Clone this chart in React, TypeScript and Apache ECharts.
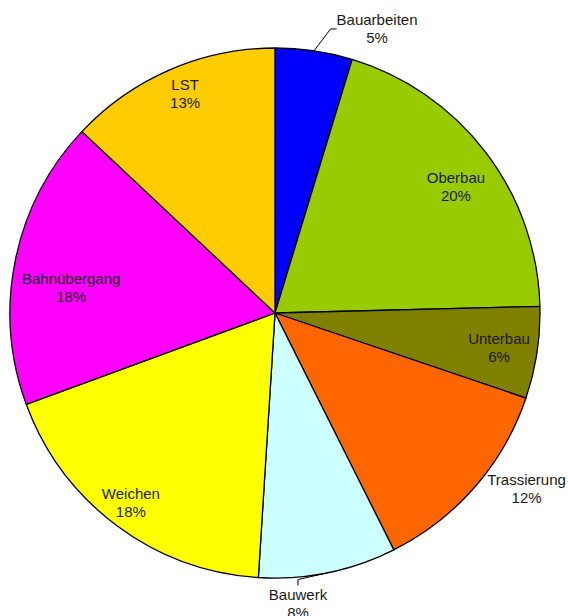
import React, { useEffect, useRef } from "react";
import * as echarts from "echarts";

const categories = ["Bauarbeiten", "Oberbau", "Unterbau", "Trassierung", "Bauwerk", "Weichen", "Bahnübergang", "LST"];
const values = [4.7, 19.9, 5.6, 12.4, 8.4, 18.4, 17.6, 13.0];
const colors = ["#0000FF", "#99CC00", "#808000", "#FF6600", "#CCFFFF", "#FFFF00", "#FF00FF", "#FFCC00"];
// label placement: [radius factor, angle shift in degrees], outside flag
const labelRadius = [1.139, 0.834, 0.855, 1.158, 1.1, 0.897, 0.775, 0.894];
const labelAngleShift = [11.3, 2.2, 0, -6.1, 7.0, 0.6, -4.5, 1.1];
const outsideLabels = [true, false, false, false, true, false, false, false];

const CX = 275;
const CY = 313;
const R = 265;

export default function App() {
  const ref = useRef<HTMLDivElement>(null);
  useEffect(() => {
    if (!ref.current) return;
    const chart = echarts.init(ref.current, null, { renderer: "svg" });
    const total = values.reduce((a, b) => a + b, 0);
    const mids: number[] = [];
    let acc = 0;
    values.forEach((v) => {
      mids.push(((acc + v / 2) / total) * 360);
      acc += v;
    });
    const data = categories.map((name, i) => ({
      name,
      value: values[i],
      itemStyle: { color: colors[i] },
      label: { position: outsideLabels[i] ? "outside" : "inside" },
      labelLine: { show: outsideLabels[i], length: 10, length2: 6 },
    }));
    chart.setOption({
      animation: false,
      backgroundColor: "#ffffff",
      series: [
        {
          type: "pie",
          center: [CX, CY],
          radius: [0, R],
          startAngle: 90,
          clockwise: true,
          avoidLabelOverlap: false,
          itemStyle: { borderColor: "#000000", borderWidth: 1.3 },
          label: {
            show: true,
            formatter: (p: any) => `${p.name}\n${Math.round(p.percent)}%`,
            fontFamily: "Liberation Sans, Arial, sans-serif",
            fontSize: 15,
            lineHeight: 18,
            color: "#1a1a1a",
            align: "center",
          },
          labelLine: { lineStyle: { color: "#000000", width: 1 } },
          labelLayout: (params: any) => {
            const i = params.dataIndex;
            const th = ((mids[i] + labelAngleShift[i]) * Math.PI) / 180;
            const r = labelRadius[i] * R;
            return {
              x: CX + r * Math.sin(th),
              y: CY - r * Math.cos(th),
              align: "center",
              verticalAlign: "middle",
            };
          },
          data,
        },
      ],
    });
    return () => chart.dispose();
  }, []);
  return (
    <div
      ref={ref}
      style={{ position: "fixed", left: 0, top: 0, width: 568, height: 616 }}
    />
  );
}
